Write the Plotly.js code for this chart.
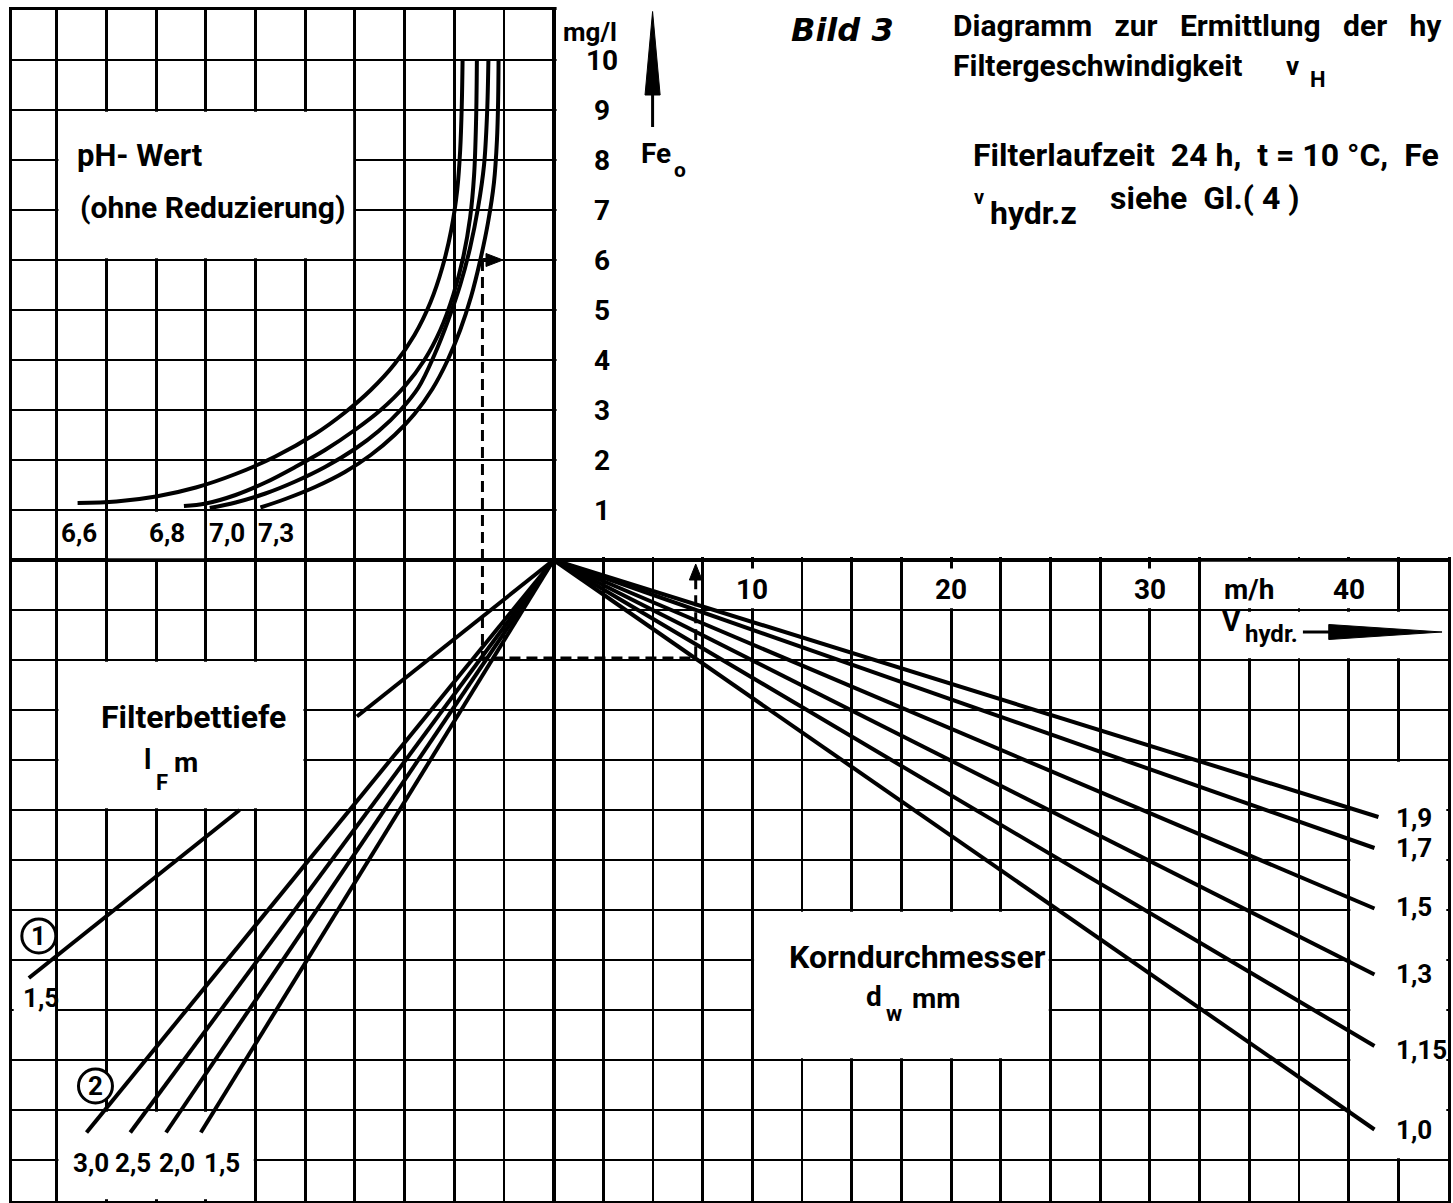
<!DOCTYPE html>
<html><head><meta charset="utf-8">
<script src="https://cdn.plot.ly/plotly-3.0.1.min.js"></script>
<style>html,body{margin:0;padding:0;background:#fff;}#chart{width:1453px;height:1203px;}</style>
</head><body><div id="chart"></div>
<script>
// ---------------- data ----------------
// x: v_hydr in m/h (left half uses the same scale, negative); y: Fe_o in mg/l (lower half negative)
const feTickVals = [1,2,3,4,5,6,7,8,9,10];
const feTickText = ['1','2','3','4','5','6','7','8','9','10'];
const vTickVals = [10,20,30,40];
const vTickText = ['10','20','30','40'];

// pH curves (ohne Reduzierung)
const phLabels = ['6,6','6,8','7,0','7,3'];
const phLabelX = [-23.9,-19.45,-16.45,-13.95];
const ph66X = [-23.95,-22,-20,-18,-16,-14,-12,-10.5,-9.2,-8.0,-7.0,-6.2,-5.6,-5.15,-4.85,-4.7,-4.62,-4.58];
const ph66Y = [1.14,1.17,1.27,1.45,1.72,2.07,2.52,2.95,3.4,3.92,4.5,5.15,5.85,6.6,7.4,8.2,9.1,10];
const ph68X = [-18.6,-17.5,-16,-14.5,-13,-11.5,-10,-8.7,-7.5,-6.5,-5.7,-5.05,-4.55,-4.2,-4.0,-3.9,-3.86];
const ph68Y = [1.08,1.13,1.3,1.55,1.86,2.2,2.6,3.0,3.47,4.0,4.6,5.3,6.05,6.85,7.7,8.8,10];
const ph70X = [-17.3,-16,-14.5,-13,-11.5,-10,-8.8,-7.7,-6.8,-6.0,-5.3,-4.7,-4.2,-3.8,-3.5,-3.35,-3.28];
const ph70Y = [1.04,1.15,1.33,1.57,1.86,2.22,2.58,3.0,3.45,4.1,4.8,5.5,6.25,7.05,7.9,8.9,10];
const ph73X = [-14.75,-13.5,-12,-10.5,-9.2,-8.0,-7.0,-6.1,-5.35,-4.7,-4.15,-3.7,-3.3,-3.0,-2.85,-2.79,-2.77];
const ph73Y = [1.05,1.22,1.46,1.76,2.1,2.5,2.92,3.42,3.98,4.6,5.27,5.98,6.75,7.55,8.4,9.2,10];

// Filterbettiefe l_F, group (1): one line, interrupted behind the label box
const lf1Label = '1,5';
const lf1X = [0,-9.9,null,-15.8,-26.4];
const lf1Y = [0,-3.13,null,-5.0,-8.36];
// group (2)
const lf2Labels = ['3,0','2,5','2,0','1,5'];
const lf2EndX = [-23.5,-21.3,-19.5,-17.75];
const lf2EndY = [-11.45,-11.45,-11.45,-11.45];
const lf2LabelX = [-23.3,-21.15,-18.95,-16.7];

// Korndurchmesser d_w
const dwLabels = ['1,9','1,7','1,5','1,3','1,15','1,0'];
const dwEndX = [41.5,41.3,41.3,41.3,41.3,41.3];
const dwEndY = [-5.14,-5.76,-6.97,-8.29,-9.72,-11.39];
const dwLabelY = [-5.16,-5.76,-6.94,-8.27,-9.8,-11.4];

// worked example (dashed reading path)
const exX = [-3.58,-3.58,7.15,7.15];
const exY = [6,-1.96,-1.96,-0.4];

// ---------------- geometry ----------------
const X0=-27.25, X1=45, Y0=-12.82, Y1=11;
const M={l:12,r:5,t:10,b:2};
const PW=1453-M.l-M.r, PH=1203-M.t-M.b;
const ux=(X1-X0)/PW, uy=(Y1-Y0)/PH;   // data units per pixel
const C=2.5;                            // grid cell width in m/h
const fx=x=>(x-X0)/(X1-X0), fy=y=>(y-Y0)/(Y1-Y0);
const F='Roboto';
const LW=4;

const traces=[];
function line(x,y,w,dash,shape){
  traces.push({type:'scatter',mode:'lines',x,y,connectgaps:false,hoverinfo:'skip',showlegend:false,
    line:{color:'#000',width:w||LW,dash:dash||'solid',shape:shape||'linear',smoothing:1}});
}
[[ph66X,ph66Y],[ph68X,ph68Y],[ph70X,ph70Y],[ph73X,ph73Y]].forEach(p=>line(p[0],p[1],LW,null,'spline'));
line(lf1X,lf1Y);
lf2EndX.forEach((x,i)=>line([0,x],[0,lf2EndY[i]]));
dwEndX.forEach((x,i)=>line([0,x],[0,dwEndY[i]]));
line(exX,exY,3,'11px,6px');

// white label boxes (grid cells, cell units) drawn between grid and traces
const boxes=[
  [-10,-4,6,9],[-9,-7,0,1],[-10,-5,-5,-2],[-10.9,-10,-10,-8],[-10,-6,Y0,-11],
  [4,10,-10,-7],[16,18,-12,-4],[13,17,-1,0],[13,18,-2,-1]
];
const insx=1.7*ux, insy=1.7*uy;
const shapes=boxes.map(b=>({type:'rect',layer:'between',xref:'x',yref:'y',
  x0:b[0]*C+insx,x1:b[1]*C-insx,y0:b[2]+insy,y1:b[3]-insy,fillcolor:'#fff',line:{width:0}}));
vTickVals.slice(0,3).forEach(t=>shapes.push({type:'rect',layer:'between',xref:'x',yref:'y',
  x0:t-0.8,x1:t+0.8,y0:-1+insy,y1:-0.17,fillcolor:'#fff',line:{width:0}}));
// empty upper right quadrant
shapes.push({type:'rect',layer:'above',xref:'paper',yref:'paper',x0:fx(0)+3/PW,x1:1.05,y0:fy(0)+3/PH,y1:1.05,fillcolor:'#fff',line:{width:0}});
// circles (1) (2)
const circ=[[-25.9,-7.52],[-23.05,-10.52]];
circ.forEach(c=>shapes.push({type:'circle',layer:'between',xref:'x',yref:'y',
  x0:c[0]-17*ux,x1:c[0]+17*ux,y0:c[1]-17*uy,y1:c[1]+17*uy,fillcolor:'#fff',line:{color:'#000',width:3}}));
// arrows
const blk={color:'#000',width:1};
const feAx=4.98;
shapes.push({type:'path',layer:'above',xref:'x',yref:'y',path:`M${feAx},10.97 L${feAx+0.38},9.3 L${feAx-0.38},9.3 Z`,fillcolor:'#000',line:blk});
shapes.push({type:'line',layer:'above',xref:'x',yref:'y',x0:feAx,x1:feAx,y0:9.35,y1:8.66,line:{color:'#000',width:3}});
const vAy=-1.44;
shapes.push({type:'line',layer:'above',xref:'x',yref:'y',x0:37.7,x1:39.2,y0:vAy,y1:vAy,line:{color:'#000',width:3}});
shapes.push({type:'path',layer:'above',xref:'x',yref:'y',path:`M44.7,${vAy} L39.0,${vAy+0.15} L39.0,${vAy-0.15} Z`,fillcolor:'#000',line:blk});
// arrow heads of the worked example
const exTop=exY[3];
shapes.push({type:'path',layer:'above',xref:'x',yref:'y',path:`M${exX[3]},-0.08 L${exX[3]+0.32},${exTop} L${exX[3]-0.32},${exTop} Z`,fillcolor:'#000',line:blk});
shapes.push({type:'path',layer:'above',xref:'x',yref:'y',path:`M-2.55,${exY[0]} L-3.4,${exY[0]+0.13} L-3.4,${exY[0]-0.13} Z`,fillcolor:'#000',line:blk});
shapes.push({type:'line',layer:'above',xref:'x',yref:'y',x0:exX[0],x1:-3.3,y0:exY[0],y1:exY[0],line:{color:'#000',width:4}});

// ---------------- text ----------------
function T(text,x,y,size,o){return Object.assign({text,x,y,xref:'x',yref:'y',showarrow:false,
  font:{family:F,size:size||28,color:'#000',weight:700},xanchor:'center',yanchor:'middle'},o||{});}
const L={xanchor:'left'};
const S='\u00a0', S3=S+S+S;
const ann=[];
ann.push(T('mg/l',0.35,10.56,26,L));
feTickVals.forEach((v,i)=>ann.push(T(feTickText[i],2.45,v,28)));
ann.push(T('Fe',4.28,8.14,28,L));
ann.push(T('o',5.94,7.8,21,L));
ann.push({text:'Bild 3',x:14.55,y:10.6,xref:'x',yref:'y',showarrow:false,xanchor:'center',yanchor:'middle',
  font:{family:'DejaVu Sans',size:32,color:'#000',style:'italic',weight:700}});
ann.push(T('Diagramm'+S3+'zur'+S3+'Ermittlung'+S3+'der'+S3+'hy',19.97,10.3,30,{xanchor:'left',yanchor:'bottom'}));
ann.push(T('Filtergeschwindigkeit',19.97,10.28,30,{xanchor:'left',yanchor:'top'}));
ann.push(T('v',36.75,9.88,26,L));
ann.push(T('H',37.95,9.62,22,L));
ann.push(T('Filterlaufzeit'+S+S+'24'+S+'h,'+S+S+'t'+S+'='+S+'10'+S+'°C,'+S+S+'Fe',21.0,8.1,32,L));
ann.push(T('v',21.05,7.26,20,L));
ann.push(T('hydr.z',21.85,6.94,32,L));
ann.push(T('siehe'+S+S+'Gl.('+S+'4'+S+')',27.87,7.24,32,L));
ann.push(T('pH-'+S+'Wert',-24.1,8.1,31,L));
ann.push(T('(ohne'+S+'Reduzierung)',-23.95,7.06,30,L));
phLabels.forEach((l,i)=>ann.push(T(l,phLabelX[i],0.55,26)));
ann.push(T('Filterbettiefe',-18.1,-3.13,32));
ann.push(T('l',-20.45,-3.98,28));
ann.push(T('F',-20.1,-4.44,22,L));
ann.push(T('m',-19.2,-4.04,28,L));
ann.push(T('1',circ[0][0],circ[0][1],26));
ann.push(T('2',circ[1][0],circ[1][1],26));
ann.push(T(lf1Label,-25.8,-8.76,26));
lf2Labels.forEach((l,i)=>ann.push(T(l,lf2LabelX[i],-12.05,26)));
ann.push(T('Korndurchmesser',18.3,-7.94,32));
ann.push(T('d',15.6,-8.72,28,L));
ann.push(T('w',16.62,-9.06,22,L));
ann.push(T('mm',17.95,-8.76,28,L));
dwLabels.forEach((l,i)=>ann.push(T(l,42.3,dwLabelY[i],26,L)));
vTickVals.forEach((v,i)=>ann.push(T(vTickText[i],v,-0.58,28)));
ann.push(T('m/h',35,-0.58,28));
ann.push(T('V',33.55,-1.22,28,L));
ann.push(T('hydr.',34.7,-1.47,24,L));

const axBase={showticklabels:false,ticks:'',showgrid:true,gridcolor:'#000',gridwidth:2.8,
  zeroline:true,zerolinecolor:'#000',zerolinewidth:4,showline:true,mirror:true,linecolor:'#000',linewidth:3,fixedrange:true};
const layout={width:1453,height:1203,margin:M,paper_bgcolor:'#fff',plot_bgcolor:'#fff',showlegend:false,hovermode:false,
  xaxis:Object.assign({},axBase,{range:[X0,X1],tick0:0,dtick:C}),
  yaxis:Object.assign({},axBase,{range:[Y0,Y1],tick0:0,dtick:1}),
  shapes,annotations:ann};
Plotly.newPlot('chart',traces,layout,{staticPlot:true,displayModeBar:false});
</script></body></html>
